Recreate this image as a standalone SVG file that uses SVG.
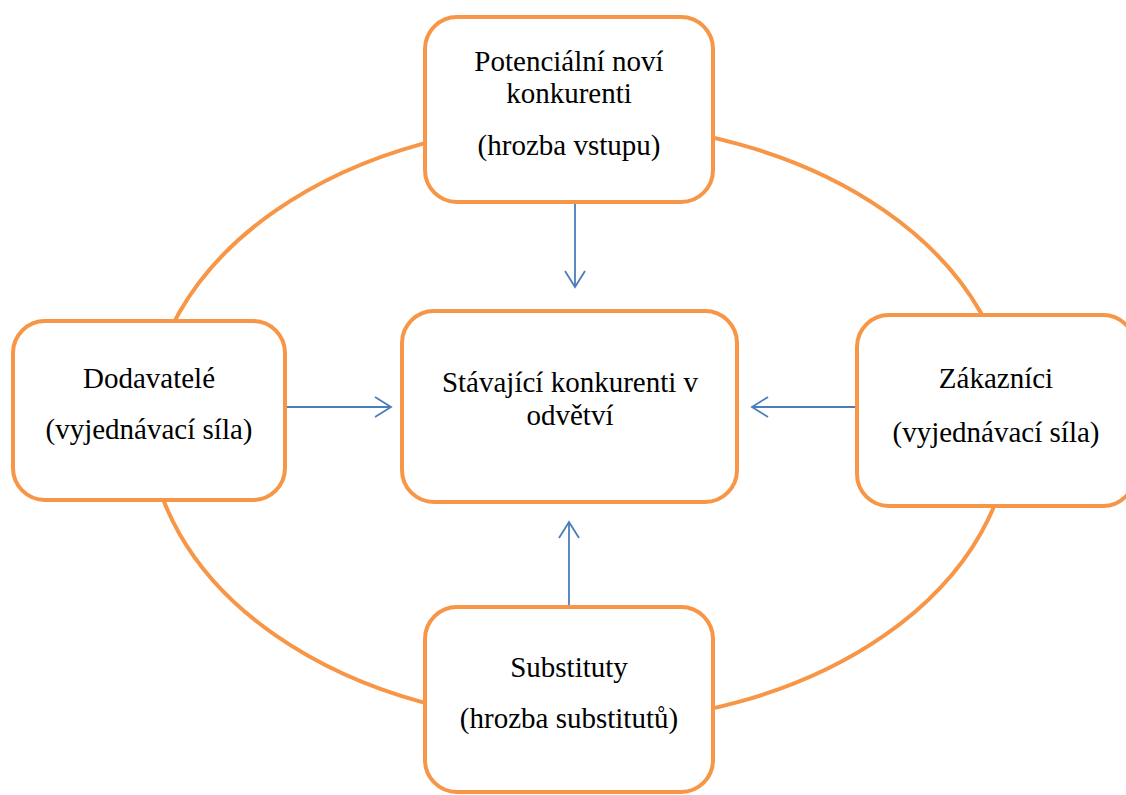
<svg xmlns="http://www.w3.org/2000/svg" width="1126" height="795" viewBox="0 0 1126 795">
<defs>
<style>
.box{fill:#FFFFFF;stroke:#F79646;stroke-width:4}
.ring{fill:none;stroke:#F79646;stroke-width:4}
.conn{fill:none;stroke:#4A7EBB;stroke-width:1.8}
.t{font-family:"Liberation Serif","Times New Roman",serif;font-size:29px;fill:#000000;text-anchor:middle}
</style>
<marker id="arr" markerUnits="userSpaceOnUse" markerWidth="22" markerHeight="24" refX="17" refY="11" orient="auto">
<path d="M1,1 L17,11 L1,21" fill="none" stroke="#4A7EBB" stroke-width="1.8"/>
</marker>
</defs>
<rect width="1126" height="795" fill="#FFFFFF"/>
<ellipse class="ring" cx="580" cy="423" rx="431" ry="300"/>
<g id="connectors">
<path class="conn" d="M575 204 L575 287" marker-end="url(#arr)"/>
<path class="conn" d="M287 407 L391 407" marker-end="url(#arr)"/>
<path class="conn" d="M857 407 L752 407" marker-end="url(#arr)"/>
<path class="conn" d="M569 605 L569 522" marker-end="url(#arr)"/>
</g>
<g id="node-top">
<rect class="box" x="425" y="17" width="288" height="185" rx="32" ry="32"/>
<text class="t" x="569" y="71">Potenciální noví</text>
<text class="t" x="569" y="103">konkurenti</text>
<text class="t" x="569" y="155">(hrozba vstupu)</text>
</g>
<g id="node-left">
<rect class="box" x="13" y="321" width="272" height="179" rx="32" ry="32"/>
<text class="t" x="149" y="388">Dodavatelé</text>
<text class="t" x="149" y="439">(vyjednávací síla)</text>
</g>
<g id="node-center">
<rect class="box" x="402" y="311" width="335" height="191" rx="32" ry="32"/>
<text class="t" x="570" y="392">Stávající konkurenti v</text>
<text class="t" x="570" y="425">odvětví</text>
</g>
<g id="node-right">
<rect class="box" x="857" y="315" width="278" height="191" rx="32" ry="32"/>
<text class="t" x="996" y="388">Zákazníci</text>
<text class="t" x="996" y="442">(vyjednávací síla)</text>
</g>
<g id="node-bottom">
<rect class="box" x="425" y="607" width="288" height="185" rx="32" ry="32"/>
<text class="t" x="569" y="677">Substituty</text>
<text class="t" x="569" y="728">(hrozba substitutů)</text>
</g>
</svg>
